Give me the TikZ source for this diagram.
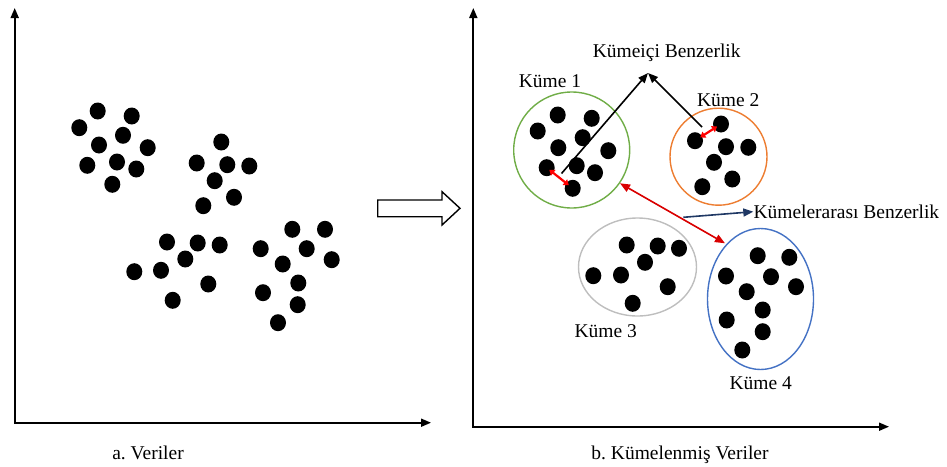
\documentclass[tikz,border=0pt]{standalone}
\usepackage{fontspec}
\setmainfont{Liberation Serif}
\usetikzlibrary{arrows.meta,shapes.geometric,calc}
\frenchspacing
\begin{document}
\begin{tikzpicture}[x=1pt,y=-1pt,
  dot/.style={ellipse,fill=black,inner sep=0pt,minimum width=16pt,minimum height=17pt},
  lbl/.style={font=\fontsize{19.5}{22}\selectfont,inner sep=0pt},
  axisline/.style={line width=1.8pt,{Triangle[length=10pt,width=8pt]}-{Triangle[length=10pt,width=8pt]}},
  clus/.style={draw,line width=1.4pt,inner sep=0pt},
  redsmall/.style={draw=red,line width=2.2pt,{Triangle[length=5pt,width=7pt]}-{Triangle[length=5pt,width=7pt]}},
  redbig/.style={draw=red!85!black,line width=1.6pt,{Triangle[length=10pt,width=8pt]}-{Triangle[length=10pt,width=8pt]}},
  blackarr/.style={draw=black,line width=1.6pt,-{Triangle[length=10pt,width=8pt]}},
  navyarr/.style={draw=navy,line width=1.6pt,-{Triangle[length=10pt,width=8pt]}}
]
\definecolor{navy}{RGB}{31,56,100}
\definecolor{kgreen}{RGB}{112,173,71}
\definecolor{korange}{RGB}{237,125,49}
\definecolor{kgray}{RGB}{190,190,190}
\definecolor{kblue}{RGB}{68,114,196}
\useasboundingbox (0,0) rectangle (947,466);

% ---------- left panel ----------
\coordinate (ly) at (14.7,8);
\coordinate (lo) at (14.7,422.7);
\coordinate (lx) at (431,422.7);
\draw[axisline] (ly) -- (lo) -- (lx);
\node[lbl] (la) at (148,453) {a. Veriler};

\foreach \p [count=\i] in {(97.7,111),(131.7,116),(79.3,127.7),(123,135.3),(99,145),(147.7,147.7),(87.3,165.3),(117,162),(136.3,169),(112.3,184.3),
  (221.3,142),(196.7,163),(227.3,164.7),(249.3,166),(214.7,180.7),(234,197.3),(203.3,205.7),
  (167,242),(197.7,243),(219.7,245),(185.3,259),(134.3,271.7),(161,270.3),(208.3,284),(172.7,300.3),
  (292.3,229.3),(325,229.3),(260.7,248.7),(306.7,248.7),(331.7,259.7),(282.7,264),(298.3,283),(263,292.7),(297.7,304.7),(278,322.7)}
  \node[dot] (ld\i) at \p {};

% ---------- hollow arrow ----------
\draw[line width=1.4pt,fill=white] (377.7,200) -- (442,200) -- (442,191.7) -- (460,208.3) -- (442,225) -- (442,216.7) -- (377.7,216.7) -- cycle;

% ---------- right panel ----------
\coordinate (ry) at (473.3,8);
\coordinate (ro) at (473.3,426.7);
\coordinate (rx) at (889,426.7);
\draw[axisline] (ry) -- (ro) -- (rx);
\node[lbl] (lb) at (680,455) {b. Kümelenmiş Veriler};

% clusters
\node[clus,draw=kgreen,circle,minimum size=116pt] (k1) at (571.7,150) {};
\node[clus,draw=korange,circle,minimum size=97pt] (k2) at (718.5,156.7) {};
\node[clus,draw=kgray,ellipse,minimum width=118pt,minimum height=98pt] (k3) at (637.5,267) {};
\node[clus,draw=kblue,ellipse,minimum width=106pt,minimum height=141pt] (k4) at (760.5,299) {};

% cluster 1 dots
\foreach \p [count=\i] in {(557.7,115),(591.7,118.3),(537.7,131),(582.7,137.7),(558.3,147.7),(608.3,150.7),(576.7,165.7),(546.7,167.7),(595,172.7),(572.7,188.3)}
  \node[dot] (a\i) at \p {};
% cluster 2 dots
\foreach \p [count=\i] in {(721,124),(695,140.7),(726,146.7),(748.3,147.3),(714,162.3),(732.3,179),(702.3,186.7)}
  \node[dot] (b\i) at \p {};
% cluster 3 dots
\foreach \p [count=\i] in {(626.7,245),(657.7,246),(679,248.3),(645,262.3),(593.3,275.7),(621,275),(667.7,286.7),(632.7,303.3)}
  \node[dot] (c\i) at \p {};
% cluster 4 dots
\foreach \p [count=\i] in {(757.7,255.7),(789.3,257.3),(726,276),(771,276.7),(796,286.7),(746.7,291.7),(762.7,310),(726.7,320),(762.7,331.7),(742.3,350)}
  \node[dot] (d\i) at \p {};

% labels
\node[lbl] (t1) at (550,81.5) {Küme 1};
\node[lbl] (t2) at (728.3,100) {Küme 2};
\node[lbl] (t3) at (605.7,331) {Küme 3};
\node[lbl] (t4) at (760.7,383.3) {Küme 4};
\node[lbl] (tin) at (666.7,53.3) {Kümeiçi Benzerlik};
\node[lbl,anchor=west] (tout) at (753.3,211.7) {Kümelerarası Benzerlik};

% intra-cluster arrows
\coordinate (tip) at (648,73);
\coordinate (s1) at (561.5,173.5);
\coordinate (s2) at (702,127);
\draw[blackarr] (s1) -- (tip);
\draw[blackarr] (s2) -- (tip);
\draw[redsmall] ($(a8)!0.1!(a10)$) -- ($(a8)!0.85!(a10)$);
\draw[redsmall] ($(b2)!0.2!(b1)$) -- ($(b2)!0.85!(b1)$);

% inter-cluster arrows
\coordinate (p1) at (620,183.3);
\coordinate (p4) at (725,243.3);
\draw[redbig] (p1) -- (p4);
\coordinate (n1) at (683.3,217.3);
\draw[navyarr] (n1) -- (tout.west);
\end{tikzpicture}
\end{document}
